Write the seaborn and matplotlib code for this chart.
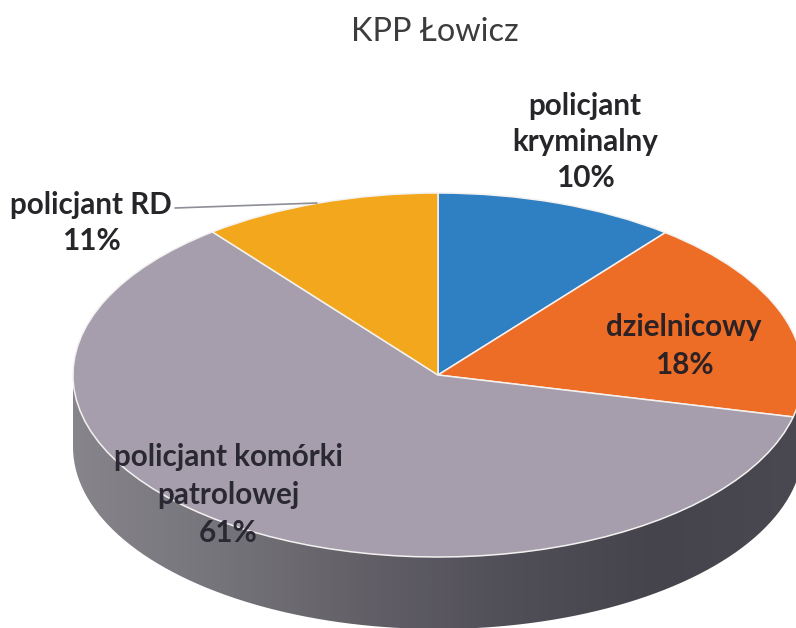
import numpy as np
import seaborn as sns
import matplotlib.pyplot as plt
from matplotlib.patches import PathPatch
from matplotlib.path import Path

title = "KPP Łowicz"
categories = ["policjant\nkryminalny", "dzielnicowy", "policjant komórki\npatrolowej", "policjant RD"]
shares = [10.7, 18.0, 60.7, 10.6]  # slice sizes as measured on the picture
percent_labels = [10, 18, 61, 11]
colors = ["#2f7fc3", "#ee6d26", "#a69eac", "#f2a71c"]
wall_colors = ["#87858b", "#76747b", "#625f67", "#504e57", "#45434c", "#4a4851"]

sns.set_theme(style="white")
plt.rcParams['font.family'] = ['Lato', 'DejaVu Sans']

W, H = 796, 628
cx, cy, rx, ry = 438, 375, 365, 182
depth = 72 / ry

fig = plt.figure(figsize=(W / 100, H / 100), dpi=100)
ax = fig.add_axes([0, 0, 1, 1])

# top of the pie, squashed afterwards by giving up the equal aspect
ax.pie(shares, colors=colors, startangle=90, counterclock=False,
       wedgeprops=dict(edgecolor="#f4f2f0", linewidth=1.1))
ax.set_aspect("auto")

# side wall: gradient clipped to the lower half of the ellipse
t = np.linspace(np.pi, 2 * np.pi, 200)
wall_x = np.concatenate([np.cos(t), [1, -1]])
wall_y = np.concatenate([np.sin(t) - depth, [0, 0]])
wall = PathPatch(Path(np.column_stack([wall_x, wall_y])), transform=ax.transData,
                 facecolor="none", edgecolor="none")
ax.add_patch(wall)
gradient = np.linspace(0, 1, 400).reshape(1, -1)
im = ax.imshow(gradient, cmap=sns.blend_palette(wall_colors, as_cmap=True),
               extent=(-1, 1, -1 - depth, 0), aspect="auto", zorder=0)
im.set_clip_path(wall)

ax.set_xlim(-cx / rx, (W - cx) / rx)
ax.set_ylim((cy - H) / ry, cy / ry)
ax.set_aspect("auto")
ax.axis("off")


def label(px, py, s, **kw):
    fig.text(px / W, 1 - py / H, s, ha="center", va="center", **kw)


label(435, 32, title, fontsize=23.3, color="#3c3c3e")

label_px = [(585, 142), (684, 346), (228, 495), (91, 223)]
label_spacing = [1.34, 1.45, 1.45, 1.34]
label_color = ["#26262a", "#2c2226", "#2a2833", "#26262a"]
for name, val, (px, py), sp, col in zip(categories, percent_labels, label_px, label_spacing, label_color):
    label(px, py, f"{name}\n{val}%", fontsize=21.3, fontweight="bold", color=col, linespacing=sp)

# leader line for the RD label
fig.add_artist(plt.Line2D([175 / W, 317 / W], [1 - 208 / H, 1 - 203 / H], color="#8d8f96", lw=1.2))

fig.savefig("out.png", dpi=100)
